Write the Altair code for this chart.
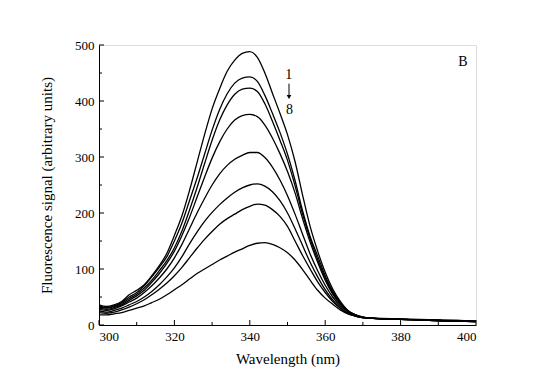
import altair as alt
import pandas as pd

wavelength = [300, 302, 304, 306, 308, 310, 312, 314, 316, 318, 320, 322, 324, 326, 328, 330,
              332, 334, 336, 338, 340, 342, 344, 346, 348, 350, 352, 354, 356, 358, 360, 362,
              364, 366, 368, 370, 375, 380, 385, 390, 395, 400]

c1 = [36, 33, 36, 42, 54, 62, 72, 88, 106, 128, 160, 195, 240, 290, 340, 386,
      422, 453, 473, 485, 488, 478, 450, 414, 378, 340, 292, 232, 176, 132, 94, 64,
      42, 26, 18, 13, 12, 11, 10, 9, 8, 7]
c2 = [34, 31, 34, 40, 50, 58, 70, 86, 103, 122, 150, 182, 222, 262, 305, 348,
      385, 413, 432, 441, 443, 435, 410, 378, 344, 305, 258, 204, 158, 123, 88, 60,
      40, 26, 18, 14, 11, 10, 9, 8, 8, 7]
c3 = [32, 30, 33, 38, 47, 55, 66, 80, 97, 115, 138, 168, 205, 245, 288, 330,
      366, 393, 412, 421, 423, 417, 395, 364, 330, 294, 249, 198, 154, 117, 84, 57,
      38, 25, 18, 14, 11, 10, 9, 8, 7, 7]
c4 = [30, 28, 31, 36, 44, 52, 62, 76, 92, 110, 132, 160, 192, 228, 264, 298,
      327, 350, 366, 374, 376, 372, 357, 334, 306, 274, 236, 190, 148, 112, 80, 55,
      37, 25, 18, 14, 11, 10, 9, 8, 7, 6]
c5 = [28, 26, 29, 34, 41, 48, 58, 70, 84, 100, 120, 144, 172, 200, 226, 250,
      270, 285, 296, 303, 308, 308, 299, 282, 259, 231, 198, 162, 127, 97, 71, 50,
      34, 24, 17, 13, 11, 10, 9, 8, 7, 6]
c6 = [25, 23, 26, 30, 36, 42, 50, 60, 72, 86, 102, 122, 145, 166, 185, 201,
      215, 227, 237, 245, 250, 252, 248, 238, 222, 200, 172, 142, 112, 86, 63, 45,
      31, 22, 16, 13, 11, 10, 9, 8, 7, 6]
c7 = [22, 21, 23, 27, 32, 38, 45, 54, 64, 75, 88, 103, 120, 137, 153, 167,
      180, 190, 198, 206, 212, 216, 214, 206, 194, 176, 150, 124, 100, 77, 58, 42,
      30, 21, 16, 13, 11, 10, 9, 8, 7, 6]
c8 = [18, 18, 20, 22, 26, 30, 34, 40, 46, 54, 63, 72, 82, 92, 100, 108,
      116, 123, 130, 136, 142, 146, 147, 144, 138, 129, 116, 99, 80, 62, 48, 37,
      27, 20, 16, 13, 11, 10, 9, 8, 7, 6]

curves = [c1, c2, c3, c4, c5, c6, c7, c8]

x_major = [300, 320, 340, 360, 380, 400]
x_minor = [310, 330, 350, 370, 390]
y_major = [0, 100, 200, 300, 400, 500]
y_minor = [50, 150, 250, 350, 450]

rows = []
for i, c in enumerate(curves):
    for w, v in zip(wavelength, c):
        rows.append({"wl": w, "val": v, "curve": i + 1})
df = pd.DataFrame(rows)

W, H = 377, 280
FONT = "Liberation Serif"

xs = alt.Scale(domain=[300, 400], nice=False)
ys = alt.Scale(domain=[0, 500], nice=False)

lines = alt.Chart(df).mark_line(color="black", strokeWidth=1.3, clip=True,
                                interpolate="monotone").encode(
    x=alt.X("wl:Q", scale=xs,
            axis=alt.Axis(values=x_major, ticks=False, grid=False, title="Wavelength (nm)",
                          labelFont=FONT, titleFont=FONT, labelFontSize=13, titleFontSize=15,
                          titleFontWeight="normal", labelColor="black", titleColor="black",
                          domainColor="black", labelPadding=5, titlePadding=8, format="d")),
    y=alt.Y("val:Q", scale=ys,
            axis=alt.Axis(values=y_major, ticks=False, grid=False,
                          title="Fluorescence signal (arbitrary units)",
                          labelFont=FONT, titleFont=FONT, labelFontSize=13, titleFontSize=15,
                          titleFontWeight="normal", labelColor="black", titleColor="black",
                          domainColor="black", labelPadding=5, titlePadding=20, format="d")),
    detail="curve:N",
)

xmaj = alt.Chart(pd.DataFrame({"t": x_major})).mark_rule(color="black", strokeWidth=1).encode(
    x=alt.X("t:Q", scale=xs), y=alt.value(H), y2=alt.value(H - 5))
xmin = alt.Chart(pd.DataFrame({"t": x_minor})).mark_rule(color="black", strokeWidth=1).encode(
    x=alt.X("t:Q", scale=xs), y=alt.value(H), y2=alt.value(H - 3))
ymaj = alt.Chart(pd.DataFrame({"t": y_major})).mark_rule(color="black", strokeWidth=1).encode(
    y=alt.Y("t:Q", scale=ys), x=alt.value(0), x2=alt.value(5))
ymin = alt.Chart(pd.DataFrame({"t": y_minor})).mark_rule(color="black", strokeWidth=1).encode(
    y=alt.Y("t:Q", scale=ys), x=alt.value(0), x2=alt.value(3))

labels_df = pd.DataFrame({
    "x": [350.3, 350.5, 396.5],
    "y": [446, 384, 470],
    "txt": ["1", "8", "B"],
})
labels = alt.Chart(labels_df).mark_text(font=FONT, fontSize=14, color="black", align="center",
                                        baseline="middle").encode(
    x=alt.X("x:Q", scale=xs), y=alt.Y("y:Q", scale=ys), text="txt:N")

arrow_df = pd.DataFrame({"x": [350.4], "y": [431], "y2": [408]})
arrow_line = alt.Chart(arrow_df).mark_rule(color="black", strokeWidth=1).encode(
    x=alt.X("x:Q", scale=xs), y=alt.Y("y:Q", scale=ys), y2="y2:Q")
head_df = pd.DataFrame({"x": [350.4], "y": [407]})
arrow_head = alt.Chart(head_df).mark_point(shape="triangle-down", filled=True, color="black",
                                           size=22, opacity=1).encode(
    x=alt.X("x:Q", scale=xs), y=alt.Y("y:Q", scale=ys))

chart = alt.layer(lines, xmaj, xmin, ymaj, ymin, labels, arrow_line, arrow_head).properties(
    width=W, height=H,
    autosize=alt.AutoSizeParams(type="none"),
    padding={"left": 91, "top": 37, "right": 62, "bottom": 59},
).configure_view(stroke="black", strokeWidth=1).configure(background="white")

chart.save("out.html", embed_options={"renderer": "svg", "actions": False})
